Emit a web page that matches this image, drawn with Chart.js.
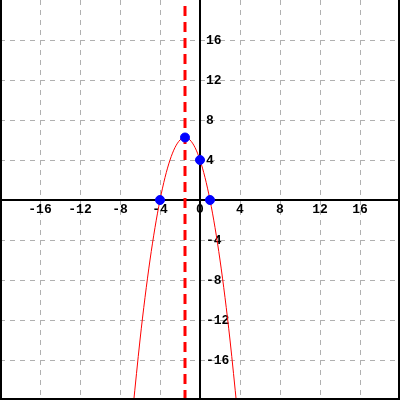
<!DOCTYPE html>
<html>
<head>
<meta charset="utf-8">
<script src="https://cdn.jsdelivr.net/npm/chart.js@4.4.1/dist/chart.umd.min.js"></script>
<style>
  html, body { margin: 0; padding: 0; background: #fff; }
  #graph { display: block; }
</style>
</head>
<body>
<canvas id="graph" width="400" height="400"></canvas>
<script>
// y = -x^2 - 3x + 4
const curveX = [-6.7, -6, -5.5, -5, -4.5, -4, -3.5, -3, -2.5, -2, -1.5, -1, -0.5, 0, 0.5, 1, 1.5, 2, 2.5, 3, 3.7];
const curveY = [-20.79, -14, -9.75, -6, -2.75, 0, 2.25, 4, 5.25, 6, 6.25, 6, 5.25, 4, 2.25, 0, -2.75, -6, -9.75, -14, -20.79];
const markX = [-4, 1, 0, -1.5];
const markY = [0, 0, 4, 6.25];
const symmetryX = -1.5;
const tickValues = [-16, -12, -8, -4, 4, 8, 12, 16];
const axisMin = -20, axisMax = 20;

const gridPlugin = {
    id: 'gridPlugin',
    beforeDatasetsDraw(chart) {
        const ctx = chart.ctx;
        const xs = chart.scales.x, ys = chart.scales.y;
        const area = chart.chartArea;
        ctx.save();
        ctx.strokeStyle = '#b0b0b0';
        ctx.lineWidth = 1;
        ctx.setLineDash([5, 5]);
        tickValues.forEach(v => {
            const px = Math.round(xs.getPixelForValue(v)) + 0.5;
            ctx.beginPath();
            ctx.moveTo(px, area.top);
            ctx.lineTo(px, area.bottom);
            ctx.stroke();
            const py = Math.round(ys.getPixelForValue(v)) + 0.5;
            ctx.beginPath();
            ctx.moveTo(area.left, py);
            ctx.lineTo(area.right, py);
            ctx.stroke();
        });
        ctx.setLineDash([]);

        // axes
        const ox = xs.getPixelForValue(0), oy = ys.getPixelForValue(0);
        ctx.strokeStyle = '#000';
        ctx.lineWidth = 2;
        ctx.beginPath();
        ctx.moveTo(area.left, oy);
        ctx.lineTo(area.right, oy);
        ctx.moveTo(ox, area.top);
        ctx.lineTo(ox, area.bottom);
        ctx.stroke();

        // tick labels
        ctx.fillStyle = '#000';
        ctx.font = 'bold 13px "Liberation Mono", "DejaVu Sans Mono", monospace';
        ctx.textBaseline = 'middle';
        ctx.textAlign = 'center';
        tickValues.forEach(v => {
            ctx.fillText(String(v), xs.getPixelForValue(v), oy + 10);
        });
        ctx.fillText('0', ox, oy + 10);
        ctx.textAlign = 'left';
        tickValues.forEach(v => {
            ctx.fillText(String(v), ox + 6, ys.getPixelForValue(v) + 1);
        });
        ctx.restore();
    },
    afterDraw(chart) {
        const ctx = chart.ctx;
        const w = chart.width, h = chart.height;
        ctx.save();
        ctx.strokeStyle = '#000';
        ctx.lineWidth = 2;
        ctx.beginPath();
        ctx.moveTo(1, 0);
        ctx.lineTo(1, h - 1);
        ctx.lineTo(w - 1, h - 1);
        ctx.lineTo(w - 1, 0);
        ctx.stroke();
        ctx.restore();
    }
};

new Chart(document.getElementById('graph').getContext('2d'), {
    type: 'scatter',
    data: {
        datasets: [
            {
                label: 'points',
                data: markX.map((x, i) => ({ x: x, y: markY[i] })),
                backgroundColor: '#0000ff',
                borderColor: '#0000ff',
                pointRadius: 4.5,
                showLine: false,
                order: 0
            },
            {
                label: 'axis of symmetry',
                data: [{ x: symmetryX, y: axisMin }, { x: symmetryX, y: axisMax }],
                borderColor: '#ff0000',
                borderWidth: 3,
                borderDash: [10, 6],
                pointRadius: 0,
                showLine: true,
                order: 1
            },
            {
                label: 'parabola',
                data: curveX.map((x, i) => ({ x: x, y: curveY[i] })),
                borderColor: '#ff0000',
                borderWidth: 1,
                pointRadius: 0,
                showLine: true,
                cubicInterpolationMode: 'monotone',
                order: 2
            }
        ]
    },
    options: {
        responsive: false,
        animation: false,
        layout: { padding: 0, autoPadding: false },
        scales: {
            x: { type: 'linear', min: axisMin, max: axisMax, display: false },
            y: { type: 'linear', min: axisMin, max: axisMax, display: false }
        },
        plugins: {
            legend: { display: false },
            tooltip: { enabled: false }
        }
    },
    plugins: [gridPlugin]
});
</script>
</body>
</html>
